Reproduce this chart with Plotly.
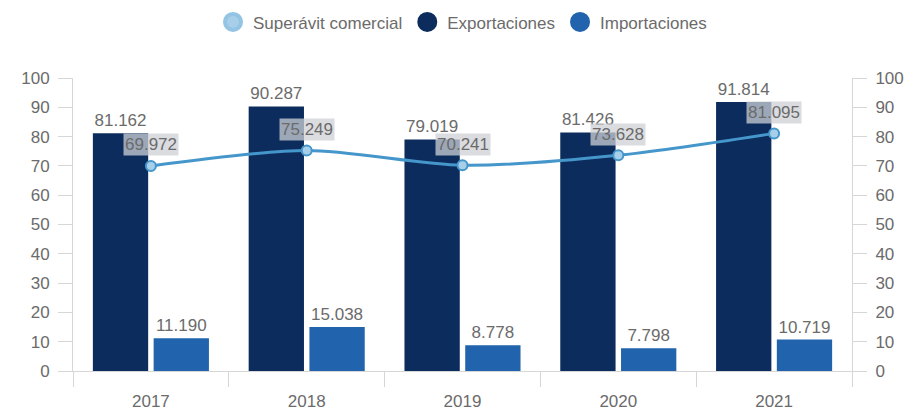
import plotly.graph_objects as go

# Chart data
years = ["2017", "2018", "2019", "2020", "2021"]
exportaciones = [81.162, 90.287, 79.019, 81.426, 91.814]
importaciones = [11.190, 15.038, 8.778, 7.798, 10.719]
superavit = [69.972, 75.249, 70.241, 73.628, 81.095]
y_ticks = [0, 10, 20, 30, 40, 50, 60, 70, 80, 90, 100]

C_EXP = "#0b2c5c"
C_IMP = "#2163ad"
C_SUP = "#4596ca"
C_SUP_FILL = "#a7cfe9"
C_TEXT = "#6b6b6b"
C_AXIS = "#d6d6d6"
FONT = "Liberation Sans, Arial, sans-serif"
FS = 17

fig = go.Figure()

fig.add_trace(go.Bar(
    x=years, y=exportaciones, name="Exportaciones",
    marker=dict(color=C_EXP, line=dict(width=0)),
    text=[f"{v:.3f}" for v in exportaciones], textposition="outside",
    textfont=dict(color=C_TEXT, size=FS, family=FONT), cliponaxis=False,
    showlegend=False,
))
fig.add_trace(go.Bar(
    x=years, y=importaciones, name="Importaciones",
    marker=dict(color=C_IMP, line=dict(width=0)),
    text=[f"{v:.3f}" for v in importaciones], textposition="outside",
    textfont=dict(color=C_TEXT, size=FS, family=FONT), cliponaxis=False,
    showlegend=False,
))
fig.add_trace(go.Scatter(
    x=years, y=superavit, name="Superávit comercial", mode="lines+markers",
    line=dict(color=C_SUP, width=3, shape="spline", smoothing=0.8),
    marker=dict(size=10, color=C_SUP_FILL, line=dict(color=C_SUP, width=2)),
    yaxis="y2", showlegend=False, cliponaxis=False,
))

# Legend entries drawn as round swatches
for name, fill, edge in [("Superávit comercial", C_SUP_FILL, "#93c4e4"),
                         ("Exportaciones", C_EXP, C_EXP),
                         ("Importaciones", C_IMP, C_IMP)]:
    fig.add_trace(go.Scatter(
        x=[None], y=[None], name=name, mode="markers",
        marker=dict(size=18, color=fill, line=dict(color=edge, width=4)),
    ))

# Value labels for the balance line (x given as category index)
for i, v in enumerate(superavit):
    fig.add_annotation(
        x=i, y=v, yref="y2", text=f"{v:.3f}", showarrow=False, yshift=21,
        font=dict(color=C_TEXT, size=FS, family=FONT),
        bgcolor="rgba(205,208,214,0.75)", borderpad=1,
    )

axis_common = dict(
    range=[0, 100], tickvals=y_ticks, showgrid=False, zeroline=False,
    showline=True, linecolor=C_AXIS, linewidth=1,
    ticks="outside", ticklen=14, tickcolor=C_AXIS,
    tickfont=dict(color=C_TEXT, size=FS, family=FONT),
    ticklabelstandoff=5,
)

fig.update_layout(
    width=904, height=410,
    margin=dict(l=73, r=52, t=78, b=39, autoexpand=False),
    plot_bgcolor="white", paper_bgcolor="white",
    barmode="group", bargap=0.22, bargroupgap=0.09,
    font=dict(family=FONT, color=C_TEXT),
    xaxis=dict(
        type="category", categoryorder="array", categoryarray=years,
        range=[-0.5, len(years) - 0.5],
        showgrid=False, showline=True, linecolor=C_AXIS, linewidth=1,
        ticks="outside", tickson="boundaries", ticklen=15, tickcolor=C_AXIS,
        tickfont=dict(color=C_TEXT, size=FS, family=FONT),
        ticklabelstandoff=15,
    ),
    yaxis=dict(**axis_common, side="left"),
    yaxis2=dict(**axis_common, side="right", overlaying="y"),
    legend=dict(
        orientation="h", x=0.5, xanchor="center", y=1.19, yanchor="middle",
        font=dict(color=C_TEXT, size=FS, family=FONT),
        itemsizing="trace", itemwidth=30, tracegroupgap=0,
        bgcolor="rgba(0,0,0,0)",
    ),
)

fig.write_html("out.html")
